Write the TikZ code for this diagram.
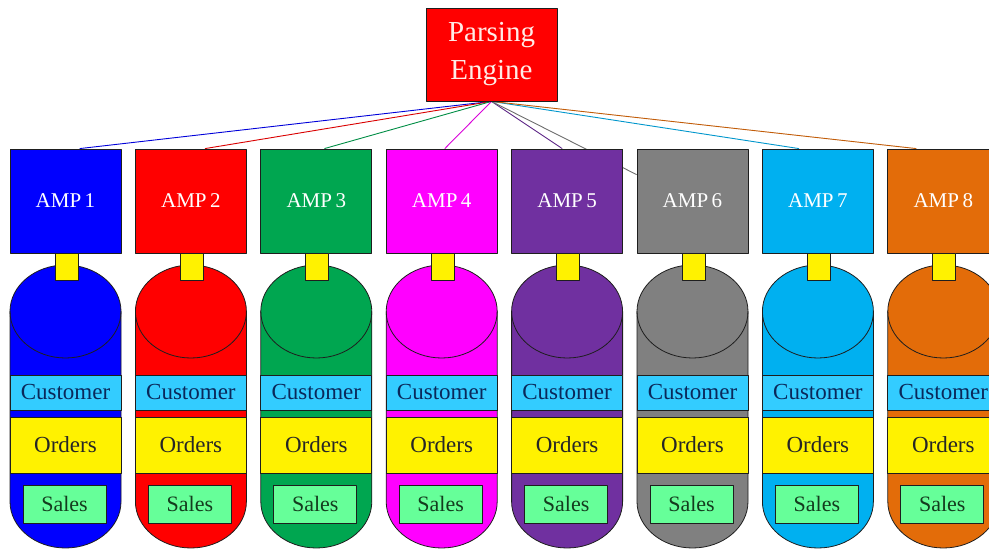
\documentclass[tikz,border=0pt]{standalone}
\usepackage{fontspec}
\setmainfont{Liberation Serif}
\usetikzlibrary{backgrounds}
\definecolor{ampblue}{RGB}{0,0,255}
\definecolor{ampred}{RGB}{255,0,0}
\definecolor{ampgreen}{RGB}{0,166,80}
\definecolor{ampmagenta}{RGB}{255,0,255}
\definecolor{amppurple}{RGB}{112,48,160}
\definecolor{ampgray}{RGB}{128,128,128}
\definecolor{ampcyan}{RGB}{0,176,240}
\definecolor{amporange}{RGB}{227,108,9}
\definecolor{custfill}{RGB}{51,204,255}
\definecolor{custtext}{RGB}{10,40,90}
\definecolor{salesfill}{RGB}{102,255,153}
\definecolor{salestext}{RGB}{20,60,30}
\definecolor{edge}{RGB}{30,30,30}
\begin{document}
\begin{tikzpicture}[x=1pt, y=1pt, line join=round, line cap=round, line width=0.8pt,
	ampbox/.style={draw=edge, minimum width=111pt, minimum height=104pt, inner sep=0pt, text=white, font=\fontsize{21}{24}\selectfont},
	pebox/.style={draw=edge, fill=ampred, minimum width=131pt, minimum height=93pt, inner sep=0pt, align=center, text={rgb,255:red,255;green,235;blue,230}, font=\fontsize{29}{38}\selectfont},
	linkbox/.style={draw=edge, fill=yellow, minimum width=23pt, minimum height=27pt, inner sep=0pt},
	custbox/.style={draw=edge, fill=custfill, minimum width=111pt, minimum height=35pt, inner sep=0pt, text=custtext, font=\fontsize{23}{26}\selectfont},
	ordbox/.style={draw=edge, fill=yellow, minimum width=111pt, minimum height=56pt, inner sep=0pt, text=black!85, font=\fontsize{23}{26}\selectfont},
	salesbox/.style={draw=edge, fill=salesfill, minimum width=83pt, minimum height=38pt, inner sep=0pt, text=salestext, font=\fontsize{22}{26}\selectfont}]
	\useasboundingbox (0,0) rectangle (989,549);
	\clip (0,0) rectangle (989,549);
	\node[pebox] (pe) at (491.5,494.5) {Parsing\\Engine};
	% one AMP with its disk per column
	\foreach \i/\c/\ex/\ey in {1/ampblue/70/0, 2/ampred/70/0, 3/ampgreen/64/0, 4/ampmagenta/59/0, 5/amppurple/51/0, 6/ampgray/0/-26, 7/ampcyan/37/0, 8/amporange/29/0}{
		\pgfmathsetmacro{\cx}{65.5+(\i-1)*125.4}
		\node[ampbox, fill=\c] (amp\i) at (\cx,348) {AMP\,\i};
		\begin{scope}[on background layer]
			\draw[\c!85!black, line width=0.9pt] (pe.south) -- ([xshift=\ex pt, yshift=\ey pt]amp\i.north west);
		\end{scope}
		\draw[draw=edge, fill=\c] (\cx-55.5,237.5) arc[start angle=180, end angle=0, x radius=55.5, y radius=46.5] -- (\cx+55.5,47.5) arc[start angle=0, end angle=-180, x radius=55.5, y radius=46.5] -- cycle;
		\draw[edge] (\cx-55.5,237.5) arc[start angle=180, end angle=360, x radius=55.5, y radius=46.5];
		\node[linkbox] (link\i) at (\cx+1,282.5) {};
		\node[custbox] (cust\i) at (\cx,156.5) {Customer};
		\node[ordbox] (ord\i) at (\cx,104) {Orders};
		\node[salesbox] (sales\i) at (\cx-1,45) {Sales};
	}
\end{tikzpicture}
\end{document}
